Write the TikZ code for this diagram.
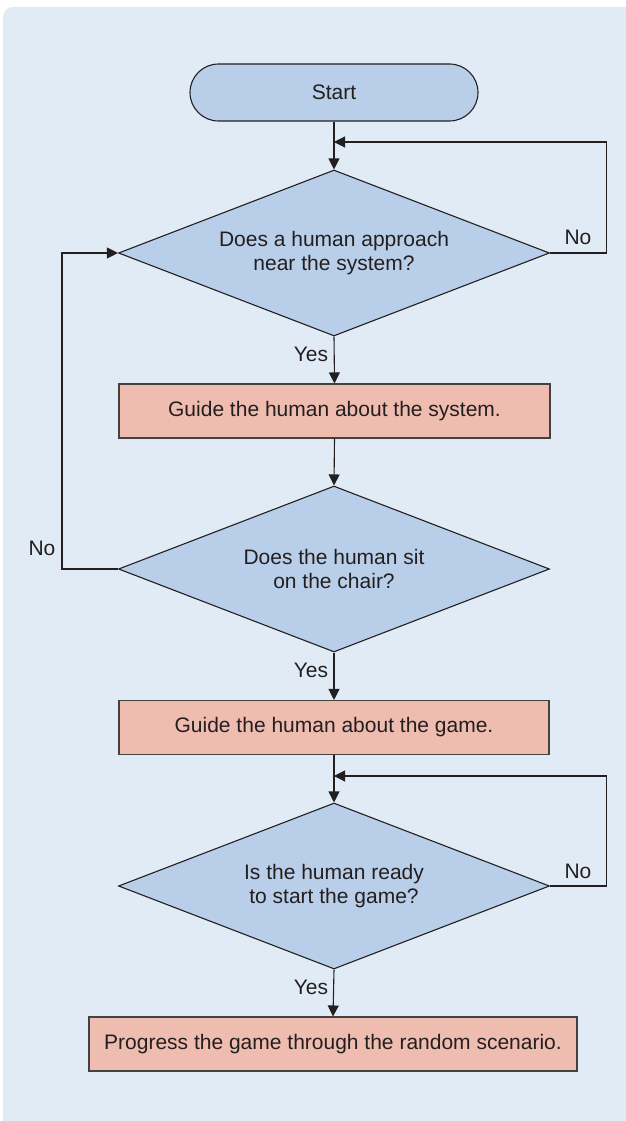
\documentclass[tikz,border=0pt]{standalone}
\usepackage{fontspec}
\setmainfont{Liberation Sans}
\usetikzlibrary{shapes.geometric,arrows.meta}

\definecolor{panelbg}{RGB}{225,235,246}
\definecolor{decfill}{RGB}{185,207,233}
\definecolor{actfill}{RGB}{239,188,176}
\definecolor{ink}{RGB}{35,31,32}

\tikzset{
  base/.style={draw=ink, line width=1.1pt, text=ink, inner sep=0pt,
    font=\fontsize{21}{24.5}\selectfont, align=center},
  terminal/.style={base, fill=decfill, rectangle, rounded corners=28.5pt,
    minimum width=288pt, minimum height=57pt},
  decision/.style={base, fill=decfill, diamond, shape aspect=2.57,
    minimum width=431pt, minimum height=166pt},
  action/.style={base, fill=actfill, rectangle, draw=ink!85,
    minimum height=54pt},
  flow/.style={draw=ink, line width=1.1pt, -{Triangle[length=11pt,width=11pt]}},
  answer/.style={text=ink, font=\fontsize{21}{24.5}\selectfont, inner sep=0pt}
}

\begin{document}
\begin{tikzpicture}[x=1pt,y=-1pt]
  \useasboundingbox (0,0) rectangle (626,1121);
  \fill[white] (0,0) rectangle (626,1121);
  \begin{scope}
    \clip (0,0) rectangle (626,1120);
    \fill[panelbg, rounded corners=10pt] (3,7) rectangle (660,1150);
  \end{scope}

  % flow steps
  \node[terminal] (start) at (334,92.5) {Start};
  \node[decision] (approach) at (334,253) {Does a human approach\\near the system?};
  \node[action, minimum width=431pt] (guidesys) at (334.5,411) {Guide the human about the system.};
  \node[decision] (sit) at (334,569) {Does the human sit\\on the chair?};
  \node[action, minimum width=430pt] (guidegame) at (334,727.5) {Guide the human about the game.};
  \node[decision] (ready) at (334,886) {Is the human ready\\to start the game?};
  \node[action, minimum width=488pt] (progress) at (333,1044) {Progress the game through the random scenario.};

  % junctions where the waiting loops re-enter
  \coordinate (join1) at (334,142);
  \coordinate (join2) at (334,776);

  % main line
  \draw[flow] (start.south) -- (approach.north);
  \draw[flow] (approach.south) -- (guidesys.north);
  \draw[flow] (guidesys.south) -- (sit.north);
  \draw[flow] (sit.south) -- (guidegame.north);
  \draw[flow] (guidegame.south) -- (ready.north);
  \draw[flow] (ready.south) -- (progress.north);

  % waiting loops
  \draw[flow] (approach.east) -- ++(56,0) |- (join1);
  \draw[flow] (sit.west) -- ++(-56,0) |- (approach.west);
  \draw[flow] (ready.east) -- ++(56,0) |- (join2);

  % answers
  \node[answer] (yes1) at (311,354) {Yes};
  \node[answer] (yes2) at (311,670) {Yes};
  \node[answer] (yes3) at (311,987) {Yes};
  \node[answer] (no1) at (578,237) {No};
  \node[answer] (no2) at (42,548) {No};
  \node[answer] (no3) at (578,871) {No};
\end{tikzpicture}
\end{document}
